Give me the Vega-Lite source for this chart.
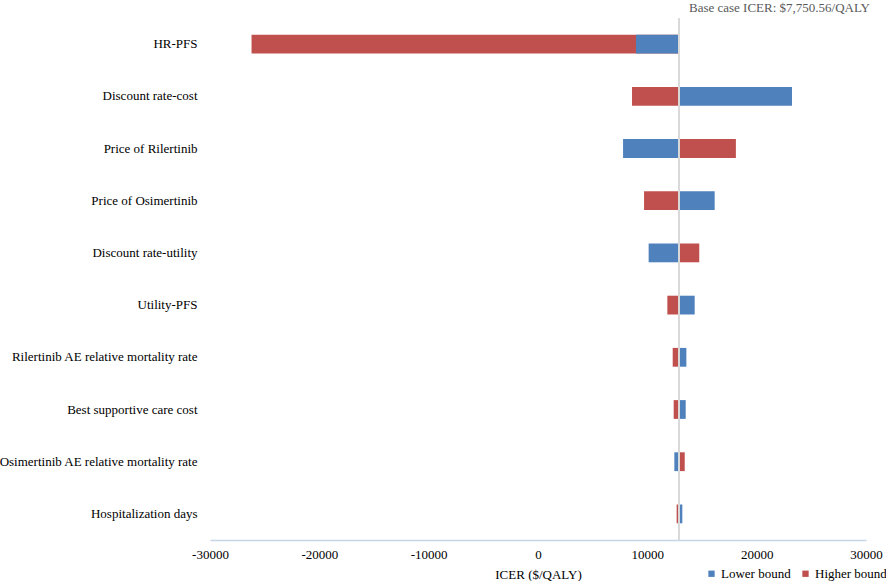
{
  "$schema": "https://vega.github.io/schema/vega-lite/v6.json",
  "autosize": "none",
  "width": 656,
  "height": 522,
  "padding": {"left": 210, "top": 18, "right": 20, "bottom": 41},
  "background": "white",
  "config": {
    "font": "Liberation Serif",
    "view": {"stroke": null}
  },
  "title": {
    "text": "Base case ICER: $7,750.56/QALY",
    "anchor": "end",
    "frame": "group",
    "font": "Liberation Serif",
    "fontSize": 13,
    "fontWeight": "normal",
    "color": "#595959",
    "offset": 3,
    "dx": 4
  },
  "data": {
    "values": [
      {"param": "HR-PFS", "bound": "Higher bound", "value": -26200},
      {"param": "Discount rate-cost", "bound": "Higher bound", "value": 8600},
      {"param": "Price of Rilertinib", "bound": "Higher bound", "value": 18100},
      {"param": "Price of Osimertinib", "bound": "Higher bound", "value": 9700},
      {"param": "Discount rate-utility", "bound": "Higher bound", "value": 14750},
      {"param": "Utility-PFS", "bound": "Higher bound", "value": 11830},
      {"param": "Rilertinib AE relative mortality rate", "bound": "Higher bound", "value": 12320},
      {"param": "Best supportive care cost", "bound": "Higher bound", "value": 12410},
      {"param": "Osimertinib AE relative mortality rate", "bound": "Higher bound", "value": 13420},
      {"param": "Hospitalization days", "bound": "Higher bound", "value": 12680},
      {"param": "HR-PFS", "bound": "Lower bound", "value": 8960},
      {"param": "Discount rate-cost", "bound": "Lower bound", "value": 23230},
      {"param": "Price of Rilertinib", "bound": "Lower bound", "value": 7780},
      {"param": "Price of Osimertinib", "bound": "Lower bound", "value": 16160},
      {"param": "Discount rate-utility", "bound": "Lower bound", "value": 10120},
      {"param": "Utility-PFS", "bound": "Lower bound", "value": 14330},
      {"param": "Rilertinib AE relative mortality rate", "bound": "Lower bound", "value": 13570},
      {"param": "Best supportive care cost", "bound": "Lower bound", "value": 13510},
      {"param": "Osimertinib AE relative mortality rate", "bound": "Lower bound", "value": 12470},
      {"param": "Hospitalization days", "bound": "Lower bound", "value": 13200}
    ]
  },
  "layer": [
    {
      "mark": {"type": "bar"},
      "encoding": {
        "y": {
          "field": "param",
          "type": "nominal",
          "sort": null,
          "scale": {"paddingInner": 0.64, "paddingOuter": 0.32},
          "axis": {
            "title": null,
            "ticks": false,
            "domain": false,
            "labelPadding": 13,
            "labelFont": "Liberation Serif",
            "labelFontSize": 13,
            "labelColor": "#000000",
            "labelLimit": 300
          }
        },
        "x": {
          "field": "value",
          "type": "quantitative",
          "scale": {"domain": [-30000, 30000], "nice": false},
          "axis": {
            "title": "ICER ($/QALY)",
            "values": [-30000, -20000, -10000, 0, 10000, 20000, 30000],
            "labelExpr": "datum.value < 0 ? '-' + format(-datum.value, 'd') : format(datum.value, 'd')",
            "grid": false,
            "ticks": false,
            "domainColor": "#C5D4E6",
            "domainWidth": 1.5,
            "labelFont": "Liberation Serif",
            "labelFontSize": 13,
            "labelColor": "#000000",
            "labelPadding": 8,
            "labelFlush": false,
            "titleFont": "Liberation Serif",
            "titleFontSize": 13,
            "titleFontWeight": "normal",
            "titleColor": "#000000",
            "titlePadding": 7
          }
        },
        "x2": {"datum": 12900},
        "color": {
          "field": "bound",
          "type": "nominal",
          "scale": {"domain": ["Lower bound", "Higher bound"], "range": ["#4F81BD", "#C0504D"]},
          "legend": {
            "title": null,
            "orient": "none",
            "direction": "horizontal",
            "legendX": 495,
            "legendY": 549,
            "symbolType": "square",
            "symbolSize": 40,
            "symbolStrokeWidth": 0,
            "labelFont": "Liberation Serif",
            "labelFontSize": 13,
            "labelColor": "#000000",
            "columnPadding": 8,
            "labelOffset": 3
          }
        }
      }
    },
    {
      "mark": {"type": "rule", "color": "#D9D9D9", "strokeWidth": 1},
      "encoding": {"x": {"datum": 12900}}
    }
  ]
}
